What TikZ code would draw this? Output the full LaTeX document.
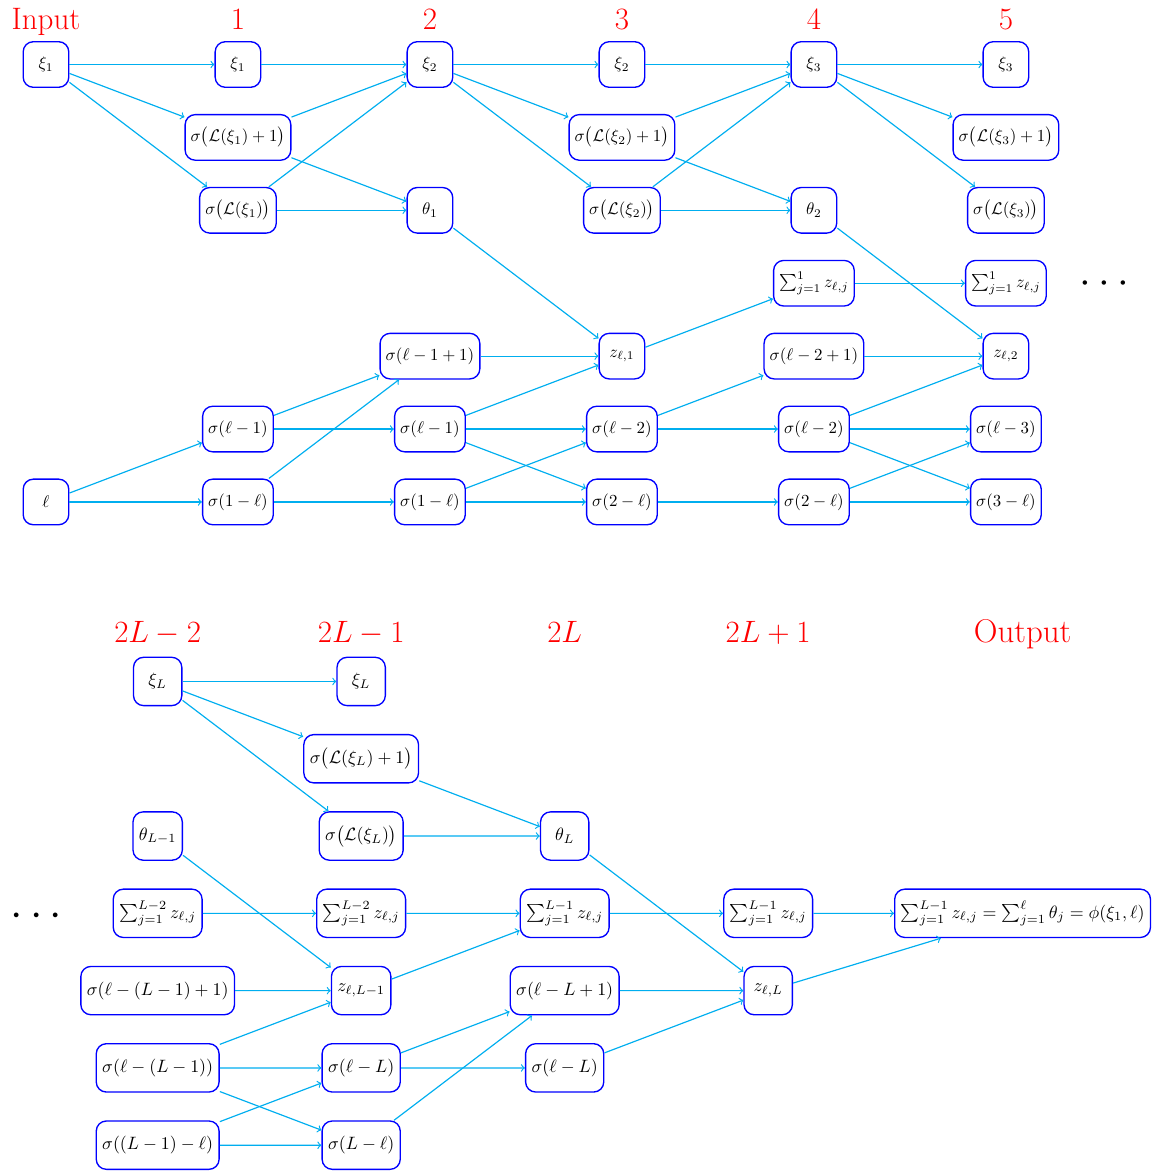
\documentclass[tikz,border=0pt]{standalone}
\usepackage{amsmath}
\usepackage{tikz}
\definecolor{wirecyan}{RGB}{0,174,239}

\begin{document}
\begin{tikzpicture}[
    cell/.style={draw=blue, thick, rounded corners=6pt, minimum width=0.95cm, minimum height=0.95cm},
    wire/.style={->, draw=wirecyan, line width=0.7pt},
    layer/.style={text=red, font=\fontsize{18.4}{22}\selectfont, anchor=base},
    etc/.style={font=\fontsize{40}{48}\selectfont, anchor=base}
]
\useasboundingbox (0,0) rectangle (24.25,-24.46);

% layers input to 5
\begin{scope}[shift={(0.958,-1.344)}, x=4cm, y=-1.519cm]
    \node (hin) [layer] at (0,-0.48) {Input};
    \node (h1) [layer] at (1,-0.48) {1};
    \node (h2) [layer] at (2,-0.48) {2};
    \node (h3) [layer] at (3,-0.48) {3};
    \node (h4) [layer] at (4,-0.48) {4};
    \node (h5) [layer] at (5,-0.48) {5};

    \node (inxi) [cell] at (0,0) {$\xi_1$};
    \node (inl) [cell] at (0,6) {$\ell$};

    \node (xia) [cell] at (1,0) {$\xi_1$};
    \node (lpa) [cell] at (1,1) {$\sigma\bigl(\mathcal{L}(\xi_1)+1\bigr)$};
    \node (lsa) [cell] at (1,2) {$\sigma\bigl(\mathcal{L}(\xi_1)\bigr)$};
    \node (ma) [cell] at (1,5) {$\sigma(\ell-1)$};
    \node (na) [cell] at (1,6) {$\sigma(1-\ell)$};

    \node (xib) [cell] at (2,0) {$\xi_2$};
    \node (tha) [cell] at (2,2) {$\theta_1$};
    \node (qa) [cell] at (2,4) {$\sigma(\ell-1+1)$};
    \node (mb) [cell] at (2,5) {$\sigma(\ell-1)$};
    \node (nb) [cell] at (2,6) {$\sigma(1-\ell)$};

    \node (xic) [cell] at (3,0) {$\xi_2$};
    \node (lpb) [cell] at (3,1) {$\sigma\bigl(\mathcal{L}(\xi_2)+1\bigr)$};
    \node (lsb) [cell] at (3,2) {$\sigma\bigl(\mathcal{L}(\xi_2)\bigr)$};
    \node (za) [cell] at (3,4) {$z_{\ell,1}$};
    \node (mc) [cell] at (3,5) {$\sigma(\ell-2)$};
    \node (nc) [cell] at (3,6) {$\sigma(2-\ell)$};

    \node (xid) [cell] at (4,0) {$\xi_3$};
    \node (thb) [cell] at (4,2) {$\theta_2$};
    \node (suma) [cell] at (4,3) {$\sum_{j=1}^{1} z_{\ell,j}$};
    \node (qb) [cell] at (4,4) {$\sigma(\ell-2+1)$};
    \node (md) [cell] at (4,5) {$\sigma(\ell-2)$};
    \node (nd) [cell] at (4,6) {$\sigma(2-\ell)$};

    \node (xie) [cell] at (5,0) {$\xi_3$};
    \node (lpc) [cell] at (5,1) {$\sigma\bigl(\mathcal{L}(\xi_3)+1\bigr)$};
    \node (lsc) [cell] at (5,2) {$\sigma\bigl(\mathcal{L}(\xi_3)\bigr)$};
    \node (sumb) [cell] at (5,3) {$\sum_{j=1}^{1} z_{\ell,j}$};
    \node (zb) [cell] at (5,4) {$z_{\ell,2}$};
    \node (me) [cell] at (5,5) {$\sigma(\ell-3)$};
    \node (ne) [cell] at (5,6) {$\sigma(3-\ell)$};

    \node (dotsa) [etc] at (5.531,3.14) {$\cdots$};

    \draw[wire] (inxi) -- (xia);
    \draw[wire] (inxi) -- (lpa);
    \draw[wire] (inxi) -- (lsa);
    \draw[wire] (inl) -- (ma);
    \draw[wire] (inl) -- (na);

    \draw[wire] (xia) -- (xib);
    \draw[wire] (lpa) -- (xib);
    \draw[wire] (lpa) -- (tha);
    \draw[wire] (lsa) -- (xib);
    \draw[wire] (lsa) -- (tha);
    \draw[wire] (ma) -- (qa);
    \draw[wire] (ma) -- (mb);
    \draw[wire] (na) -- (qa);
    \draw[wire] (na) -- (nb);

    \draw[wire] (xib) -- (xic);
    \draw[wire] (xib) -- (lpb);
    \draw[wire] (xib) -- (lsb);
    \draw[wire] (tha) -- (za);
    \draw[wire] (qa) -- (za);
    \draw[wire] (mb) -- (za);
    \draw[wire] (mb) -- (mc);
    \draw[wire] (mb) -- (nc);
    \draw[wire] (nb) -- (mc);
    \draw[wire] (nb) -- (nc);

    \draw[wire] (xic) -- (xid);
    \draw[wire] (lpb) -- (xid);
    \draw[wire] (lpb) -- (thb);
    \draw[wire] (lsb) -- (xid);
    \draw[wire] (lsb) -- (thb);
    \draw[wire] (za) -- (suma);
    \draw[wire] (mc) -- (qb);
    \draw[wire] (mc) -- (md);
    \draw[wire] (nc) -- (nd);

    \draw[wire] (xid) -- (xie);
    \draw[wire] (xid) -- (lpc);
    \draw[wire] (xid) -- (lsc);
    \draw[wire] (thb) -- (zb);
    \draw[wire] (suma) -- (sumb);
    \draw[wire] (qb) -- (zb);
    \draw[wire] (md) -- (zb);
    \draw[wire] (md) -- (me);
    \draw[wire] (md) -- (ne);
    \draw[wire] (nd) -- (me);
    \draw[wire] (nd) -- (ne);
\end{scope}

% layers 2L-2 to output
\begin{scope}[shift={(3.285,-14.198)}, scale=1.06, transform shape, x=4cm, y=-1.519cm]
    \node (hf) [layer] at (0,-0.5) {$2L-2$};
    \node (hg) [layer] at (1,-0.5) {$2L-1$};
    \node (hh) [layer] at (2,-0.5) {$2L$};
    \node (hi) [layer] at (3,-0.5) {$2L+1$};
    \node (hout) [layer] at (4.25,-0.5) {Output};

    \node (dotsb) [etc] at (-0.578,3.17) {$\cdots$};

    \node (xif) [cell] at (0,0) {$\xi_L$};
    \node (thc) [cell] at (0,2) {$\theta_{L-1}$};
    \node (sumc) [cell] at (0,3) {$\sum_{j=1}^{L-2} z_{\ell,j}$};
    \node (qc) [cell] at (0,4) {$\sigma(\ell-(L-1)+1)$};
    \node (mf) [cell] at (0,5) {$\sigma(\ell-(L-1))$};
    \node (nf) [cell] at (0,6) {$\sigma((L-1)-\ell)$};

    \node (xig) [cell] at (1,0) {$\xi_L$};
    \node (lpd) [cell] at (1,1) {$\sigma\bigl(\mathcal{L}(\xi_L)+1\bigr)$};
    \node (lsd) [cell] at (1,2) {$\sigma\bigl(\mathcal{L}(\xi_L)\bigr)$};
    \node (sumd) [cell] at (1,3) {$\sum_{j=1}^{L-2} z_{\ell,j}$};
    \node (zc) [cell] at (1,4) {$z_{\ell,L-1}$};
    \node (mg) [cell] at (1,5) {$\sigma(\ell-L)$};
    \node (ng) [cell] at (1,6) {$\sigma(L-\ell)$};

    \node (thd) [cell] at (2,2) {$\theta_L$};
    \node (sume) [cell] at (2,3) {$\sum_{j=1}^{L-1} z_{\ell,j}$};
    \node (qd) [cell] at (2,4) {$\sigma(\ell-L+1)$};
    \node (mh) [cell] at (2,5) {$\sigma(\ell-L)$};

    \node (sumf) [cell] at (3,3) {$\sum_{j=1}^{L-1} z_{\ell,j}$};
    \node (zd) [cell] at (3,4) {$z_{\ell,L}$};

    \node (out) [cell] at (4.25,3) {$\sum_{j=1}^{L-1} z_{\ell,j} = \sum_{j=1}^{\ell} \theta_j = \phi(\xi_1,\ell)$};

    \draw[wire] (xif) -- (xig);
    \draw[wire] (xif) -- (lpd);
    \draw[wire] (xif) -- (lsd);
    \draw[wire] (thc) -- (zc);
    \draw[wire] (sumc) -- (sumd);
    \draw[wire] (qc) -- (zc);
    \draw[wire] (mf) -- (zc);
    \draw[wire] (mf) -- (mg);
    \draw[wire] (mf) -- (ng);
    \draw[wire] (nf) -- (mg);
    \draw[wire] (nf) -- (ng);

    \draw[wire] (lpd) -- (thd);
    \draw[wire] (lsd) -- (thd);
    \draw[wire] (sumd) -- (sume);
    \draw[wire] (zc) -- (sume);
    \draw[wire] (mg) -- (qd);
    \draw[wire] (mg) -- (mh);
    \draw[wire] (ng) -- (qd);

    \draw[wire] (thd) -- (zd);
    \draw[wire] (sume) -- (sumf);
    \draw[wire] (qd) -- (zd);
    \draw[wire] (mh) -- (zd);

    \draw[wire] (sumf) -- (out);
    \draw[wire] (zd) -- (out);
\end{scope}
\end{tikzpicture}
\end{document}
